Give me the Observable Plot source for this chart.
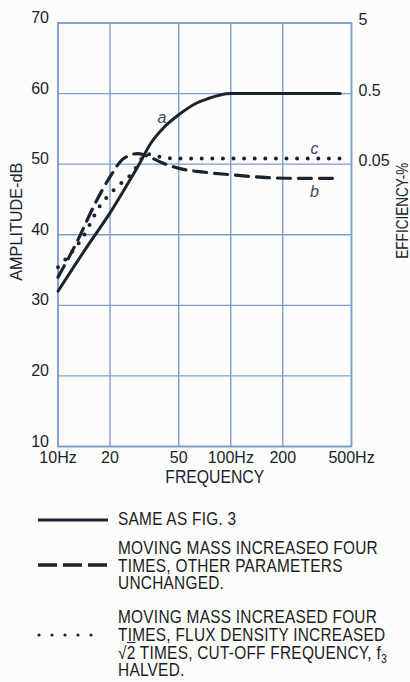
<!DOCTYPE html>
<html>
<head>
<meta charset="utf-8">
<script src="https://cdn.jsdelivr.net/npm/d3@7"></script>
<script src="https://cdn.jsdelivr.net/npm/@observablehq/plot@0.6"></script>
<style>
  html, body { margin: 0; padding: 0; background: #fcfcfa; }
  #wrap { position: relative; width: 410px; height: 682px; overflow: hidden;
          font-family: "Liberation Sans", Arial, sans-serif; color: #1a1c22; }
  #chart { position: absolute; left: 0; top: 0; }
  .leg { position: absolute; left: 0; top: 0; }
  .ltxt { position: absolute; left: 118px; font-size: 17.5px; line-height: 17.6px; letter-spacing: 0.3px; white-space: nowrap; transform-origin: 0 0; }
  .ltxt div { width: max-content; height: 17.6px; }
  .ol { text-decoration: overline; }
  .sub { position: relative; top: 4px; font-size: 12px; line-height: 0; }
</style>
</head>
<body>
<div id="wrap">
  <div id="chart"></div>
  <svg class="leg" width="410" height="682" id="legsvg"></svg>
  <div class="ltxt" style="top:510.7px"><div>SAME AS FIG. 3</div></div>
  <div class="ltxt" style="top:540px"><div id="refline">MOVING MASS INCREASEO FOUR</div><div>TIMES, OTHER PARAMETERS</div><div>UNCHANGED.</div></div>
  <div class="ltxt" style="top:609.4px"><div>MOVING MASS INCREASED FOUR</div><div>TIMES, FLUX DENSITY INCREASED</div><div>√<span class="ol">2</span> TIMES, CUT-OFF FREQUENCY, f<span class="sub">3</span></div><div>HALVED.</div></div>
</div>
<script>
// ---- data ----
const xTicks = [10, 20, 50, 100, 200, 500];
const xTickLabels = ["10Hz", "20", "50", "100Hz", "200", "500Hz"];
const yTicks = [10, 20, 30, 40, 50, 60, 70];
const effTicks = [70, 60, 50];
const effLabels = ["5", "0.5", "0.05"];

// curve a: same as Fig. 3
const freqA = [10, 15, 20, 25, 29.5, 34.3, 41, 50, 64, 74, 87, 100, 200, 430];
const ampA  = [32, 38.6, 43.1, 47, 50, 52.9, 55.2, 57.0, 58.7, 59.3, 59.8, 60, 60, 60];
// curve b: moving mass x4
const freqB = [10, 13, 16, 20, 24, 29, 34, 40, 50, 68, 100, 163, 230, 430];
const ampB  = [34, 39.2, 43.9, 48.2, 50.8, 51.5, 51, 50.2, 49.4, 48.9, 48.5, 48.1, 48, 48];
// curve c: moving mass x4, flux density x sqrt2
const freqC = [10, 11.8, 13.8, 17.6, 20, 22.5, 27, 30, 32, 36, 42, 50, 430];
const ampC  = [35.4, 37.3, 39.5, 44.2, 45.8, 47, 48.8, 50.5, 51.5, 51.2, 50.9, 50.8, 50.8];

const curveNames = ["a", "b", "c"];
const curveLabelFreq = [40, 305, 305];
const curveLabelAmp = [56.6, 46.1, 52.2];

// ---- build ----
const toRows = (f, a) => f.map((d, i) => ({f: d, a: a[i]}));
const rowsA = toRows(freqA, ampA), rowsB = toRows(freqB, ampB), rowsC = toRows(freqC, ampC);
const labelRows = curveNames.map((n, i) => ({n, f: curveLabelFreq[i], a: curveLabelAmp[i]}));

const gridColor = "#7f9dcc";
const ink = "#1b2230";
const font = '"Liberation Sans", Arial, sans-serif';

const chart = Plot.plot({
  width: 410,
  height: 490,
  marginLeft: 57.5,
  marginRight: 59,
  marginTop: 22.5,
  marginBottom: 44,
  style: {background: "transparent", fontFamily: font, color: ink},
  x: {type: "log", domain: [10, 500]},
  y: {domain: [10, 70]},
  marks: [
    Plot.gridX(xTicks, {stroke: gridColor, strokeOpacity: 1, strokeWidth: 1.4}),
    Plot.gridY(yTicks, {stroke: gridColor, strokeOpacity: 1, strokeWidth: 1.4}),
    Plot.frame({stroke: gridColor, strokeWidth: 1.6}),
    Plot.axisX({ticks: xTicks, tickFormat: (d) => xTickLabels[xTicks.indexOf(d)], tickSize: 0, tickPadding: 5, fontSize: 16, label: null}),
    Plot.axisY({ticks: yTicks, tickSize: 0, tickPadding: 9, dy: -5, fontSize: 16, label: null}),
    Plot.axisY({anchor: "right", ticks: effTicks, tickFormat: (d) => effLabels[effTicks.indexOf(d)], tickSize: 0, tickPadding: 7, dy: -3, fontSize: 16, label: null}),
    Plot.text(["AMPLITUDE-dB"], {frameAnchor: "left", textAnchor: "middle", dx: -41.5, dy: -13, rotate: -90, fontSize: 16, fill: ink}),
    Plot.text(["EFFICIENCY-%"], {frameAnchor: "right", textAnchor: "middle", dx: 51, dy: -24, rotate: -90, fontSize: 16, fill: ink}),
    Plot.text(["FREQUENCY"], {frameAnchor: "bottom", dx: 10, dy: 36, fontSize: 18, fill: ink}),
    Plot.line(rowsA, {x: "f", y: "a", stroke: ink, strokeWidth: 3, curve: "monotone-x"}),
    Plot.line(rowsB, {x: "f", y: "a", stroke: ink, strokeWidth: 3.2, strokeDasharray: "13,8", curve: "monotone-x"}),
    Plot.line(rowsC, {x: "f", y: "a", stroke: ink, strokeWidth: 4, strokeDasharray: "0,10.6", strokeLinecap: "round", curve: "monotone-x"}),
    Plot.text(labelRows, {x: "f", y: "a", text: "n", fontSize: 16, fontStyle: "italic", fill: "#3d4a66"})
  ]
});
// condensed axis titles, fitted to the reference lengths
const titleLen = {"AMPLITUDE-dB": 118, "EFFICIENCY-%": 96, "FREQUENCY": 99};
chart.querySelectorAll("text").forEach(t => {
  const L = titleLen[t.textContent];
  if (L) { t.setAttribute("textLength", L); t.setAttribute("lengthAdjust", "spacingAndGlyphs"); }
});
document.getElementById("chart").appendChild(chart);

// condense legend text to the reference width (real text, scaled horizontally)
const refW = document.getElementById("refline").getBoundingClientRect().width;
const s = 260 / refW;
document.querySelectorAll(".ltxt").forEach(el => el.style.transform = `scaleX(${s})`);

// legend samples
const leg = d3.select("#legsvg");
leg.append("line").attr("x1", 38).attr("x2", 108).attr("y1", 520).attr("y2", 520).attr("stroke", ink).attr("stroke-width", 3);
leg.append("line").attr("x1", 38).attr("x2", 108).attr("y1", 565).attr("y2", 565).attr("stroke", ink).attr("stroke-width", 3.4).attr("stroke-dasharray", "19,6");
leg.append("line").attr("x1", 39).attr("x2", 104).attr("y1", 635).attr("y2", 635).attr("stroke", ink).attr("stroke-width", 3.2).attr("stroke-dasharray", "0,13").attr("stroke-linecap", "round");
</script>
</body>
</html>
